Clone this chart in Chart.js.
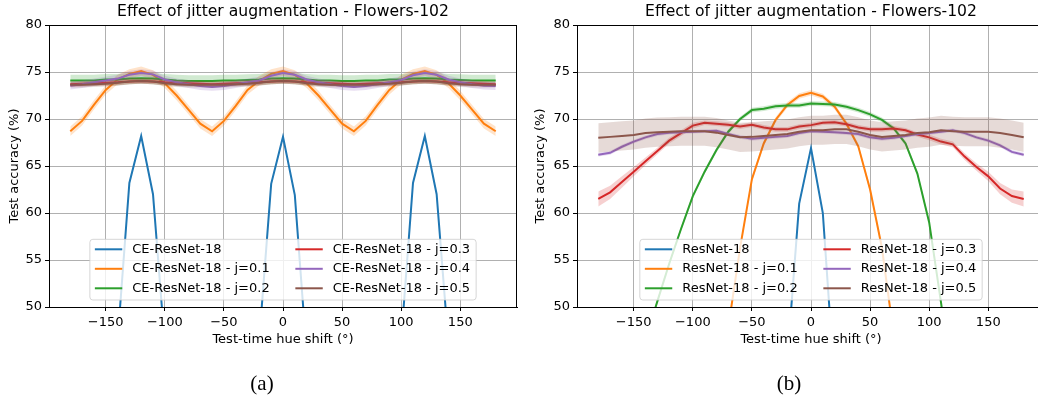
<!DOCTYPE html>
<html><head><meta charset="utf-8">
<script src="https://cdn.jsdelivr.net/npm/chart.js@4.4.1/dist/chart.umd.min.js"></script>
<style>
html,body{margin:0;padding:0;background:#fff;overflow:hidden;width:1038px;height:397px;position:relative}
#wa{position:absolute;left:0;top:0;width:520px;height:397px}
#wb{position:absolute;left:520px;top:0;width:530px;height:397px}
.cap{position:absolute;top:371px;line-height:24px;font-family:'Liberation Serif','Times New Roman',serif;font-size:21px;transform:translateX(-50%);color:#000}
</style></head><body>
<div id="wa"><canvas id="ca" width="520" height="397"></canvas></div>
<div id="wb"><canvas id="cb" width="530" height="397"></canvas></div>
<div class="cap" style="left:262px">(a)</div>
<div class="cap" style="left:789px">(b)</div>
<script>
const hueShifts = [-180,-170,-160,-150,-140,-130,-120,-110,-100,-90,-80,-70,-60,-50,-40,-30,-20,-10,0,10,20,30,40,50,60,70,80,90,100,110,120,130,140,150,160,170,180];

const chartTitle = 'Effect of jitter augmentation - Flowers-102';
const xAxisTitle = 'Test-time hue shift (\u00b0)';
const yAxisTitle = 'Test accuracy (%)';

const leftLabels = ['CE-ResNet-18','CE-ResNet-18 - j=0.1','CE-ResNet-18 - j=0.2','CE-ResNet-18 - j=0.3','CE-ResNet-18 - j=0.4','CE-ResNet-18 - j=0.5'];
const rightLabels = ['ResNet-18','ResNet-18 - j=0.1','ResNet-18 - j=0.2','ResNet-18 - j=0.3','ResNet-18 - j=0.4','ResNet-18 - j=0.5'];

// (a) CE-ResNet-18
const ceBase = [null,null,null,null,46.4,63.2,68.2,62.0,46.0,null,null,null,null,null,null,null,46.7,63.1,68.1,61.9,45.1,null,null,null,null,null,null,null,46.5,63.2,68.2,62.0,46.0,null,null,null,null];
const ceJ01 = [68.7,69.8,71.5,73.1,74.2,74.8,75.1,74.7,73.8,72.5,71.0,69.5,68.7,69.8,71.4,73.1,74.1,74.8,75.1,74.7,73.8,72.5,71.0,69.5,68.7,69.8,71.5,73.1,74.2,74.8,75.1,74.7,73.8,72.5,71.0,69.5,68.7];
const ceJ02 = [74.1,74.1,74.1,74.2,74.2,74.3,74.35,74.3,74.2,74.1,74.05,74.05,74.05,74.1,74.1,74.15,74.2,74.3,74.35,74.3,74.2,74.1,74.1,74.05,74.05,74.1,74.1,74.2,74.2,74.3,74.35,74.3,74.2,74.15,74.1,74.1,74.1];
const ceJ03 = [73.7,73.75,73.8,73.85,73.9,74.0,74.05,74.0,73.9,73.85,73.8,73.75,73.7,73.75,73.8,73.85,73.9,74.0,74.05,74.0,73.9,73.85,73.8,73.75,73.7,73.75,73.8,73.85,73.9,74.0,74.05,74.0,73.9,73.85,73.8,73.75,73.7];
const ceJ04 = [73.55,73.7,73.9,74.1,74.3,74.7,74.9,74.75,74.2,73.9,73.7,73.5,73.4,73.5,73.7,73.9,74.1,74.6,74.9,74.7,74.2,73.9,73.7,73.5,73.4,73.5,73.7,73.9,74.15,74.65,74.9,74.7,74.2,73.9,73.7,73.55,73.5];
const ceJ05 = [73.65,73.65,73.7,73.75,73.85,74.0,74.05,74.0,73.8,73.7,73.65,73.65,73.65,73.65,73.7,73.75,73.85,74.0,74.05,74.0,73.8,73.7,73.65,73.65,73.65,73.65,73.7,73.75,73.85,74.0,74.05,74.0,73.8,73.7,73.65,73.65,73.65];
const ceSpread = [0.2,0.5,0.6,0.3,0.4,0.3];

// (b) ResNet-18
const rnBase = [null,null,null,null,null,null,null,null,null,null,null,null,null,null,null,null,44.5,61.0,66.9,60.0,41.8,null,null,null,null,null,null,null,null,null,null,null,null,null,null,null,null];
const rnJ01 = [null,null,null,null,null,null,null,null,null,null,null,47.8,56.3,63.6,67.4,69.9,71.5,72.45,72.8,72.4,71.3,69.5,67.1,62.5,56.3,47.0,null,null,null,null,null,null,null,null,null,null,null];
const rnJ02 = [null,null,null,null,46.6,50.6,54.6,58.3,61.8,64.4,66.7,68.65,70.0,70.95,71.1,71.35,71.45,71.45,71.65,71.6,71.55,71.3,70.95,70.5,69.9,69.0,67.4,64.2,59.0,50.5,41.0,null,null,null,null,null,null];
const rnJ03 = [61.5,62.2,63.3,64.4,65.5,66.6,67.7,68.5,69.3,69.6,69.5,69.4,69.2,69.4,69.1,68.9,68.9,69.2,69.35,69.6,69.65,69.45,69.1,68.9,68.9,69.0,68.8,68.35,68.05,67.6,67.3,66.0,64.9,63.9,62.6,61.8,61.5];
const rnJ04 = [66.2,66.4,67.05,67.6,68.05,68.4,68.55,68.6,68.65,68.7,68.75,68.4,68.1,67.9,68.0,68.1,68.2,68.5,68.7,68.65,68.6,68.5,68.4,68.05,67.9,68.0,68.2,68.4,68.5,68.65,68.8,68.5,68.05,67.7,67.2,66.5,66.2];
const rnJ05 = [68.0,68.1,68.2,68.3,68.5,68.6,68.65,68.7,68.7,68.7,68.55,68.3,68.05,68.1,68.2,68.3,68.4,68.65,68.8,68.8,68.9,68.9,68.65,68.3,68.1,68.2,68.3,68.5,68.6,68.8,68.7,68.65,68.65,68.65,68.5,68.3,68.05];
const rnJ03Spread = [0.8,0.7,0.6,0.5,0.4,0.35,0.3,0.3,0.3,0.25,0.25,0.25,0.25,0.25,0.25,0.25,0.25,0.25,0.25,0.25,0.25,0.25,0.25,0.25,0.25,0.25,0.25,0.25,0.3,0.3,0.3,0.35,0.4,0.5,0.6,0.7,0.8];
const rnSpread = [0.2,0.3,0.25,rnJ03Spread,0.2,1.55];

const seriesColors = ['#1f77b4','#ff7f0e','#2ca02c','#d62728','#9467bd','#8c564b'];

function rgba(hex, a) {
  const n = parseInt(hex.slice(1), 16);
  return 'rgba(' + ((n >> 16) & 255) + ',' + ((n >> 8) & 255) + ',' + (n & 255) + ',' + a + ')';
}

function buildDatasets(seriesList, spreads, labels) {
  const ds = [];
  seriesList.forEach((vals, k) => {
    const s = spreads[k];
    const sd = i => Array.isArray(s) ? s[i] : s;
    const color = seriesColors[k];
    const up = vals.map((v, i) => ({x: hueShifts[i], y: v == null ? null : v + sd(i)}));
    const lo = vals.map((v, i) => ({x: hueShifts[i], y: v == null ? null : v - sd(i)}));
    const line = vals.map((v, i) => ({x: hueShifts[i], y: v}));
    const lowerIndex = ds.length + 1;
    ds.push({label: labels[k] + ' upper', data: up, borderWidth: 0, borderColor: 'transparent', pointRadius: 0, fill: lowerIndex, backgroundColor: rgba(color, 0.22), order: -2 * k, clip: 0, tension: 0});
    ds.push({label: labels[k] + ' lower', data: lo, borderWidth: 0, borderColor: 'transparent', pointRadius: 0, fill: false, order: -2 * k, clip: 0, tension: 0});
    ds.push({label: labels[k], data: line, borderWidth: 2, borderColor: color, backgroundColor: color, pointRadius: 0, fill: false, order: -2 * k - 1, clip: 0, tension: 0, spanGaps: false});
  });
  return ds;
}

const FONT = 'DejaVu Sans';

const mplPlugin = {
  id: 'mplFrame',
  afterDatasetsDraw(chart) {
    const ctx = chart.ctx;
    const a = chart.chartArea;
    ctx.save();
    ctx.strokeStyle = '#000';
    ctx.lineWidth = 1;
    ctx.beginPath();
    ctx.moveTo(Math.round(a.left), Math.round(a.top) + 0.5);
    ctx.lineTo(Math.round(a.right), Math.round(a.top) + 0.5);
    ctx.moveTo(Math.round(a.right) - 0.5, Math.round(a.top));
    ctx.lineTo(Math.round(a.right) - 0.5, Math.round(a.bottom));
    ctx.stroke();

    const opts = chart.options.plugins.mplFrame;
    const labels = opts.labels;
    ctx.font = '13px "' + FONT + '"';
    const col1 = labels.slice(0, 3), col2 = labels.slice(3);
    const w1 = Math.max(...col1.map(t => ctx.measureText(t).width));
    const w2 = Math.max(...col2.map(t => ctx.measureText(t).width));
    const padL = 5, hl = 27.4, hg = 10, cs = 25.7, padR = 6;
    const W = padL + hl + hg + w1 + cs + hl + hg + w2 + padR;
    const H = 60.7;
    const cx = (a.left + a.right) / 2;
    const bx = cx - W / 2;
    const bottom = a.bottom - 7;
    const by = bottom - H;
    ctx.beginPath();
    if (ctx.roundRect) ctx.roundRect(bx, by, W, H, 3); else ctx.rect(bx, by, W, H);
    ctx.fillStyle = 'rgba(255,255,255,0.8)';
    ctx.fill();
    ctx.strokeStyle = 'rgba(204,204,204,0.8)';
    ctx.lineWidth = 1;
    ctx.stroke();
    ctx.textBaseline = 'middle';
    ctx.textAlign = 'left';
    labels.forEach((t, i) => {
      const col = i < 3 ? 0 : 1;
      const row = i % 3;
      const x0 = bx + padL + (col === 1 ? hl + hg + w1 + cs : 0);
      const y = by + 10 + row * 19.5;
      ctx.strokeStyle = seriesColors[i];
      ctx.lineWidth = 2;
      ctx.beginPath();
      ctx.moveTo(x0, y);
      ctx.lineTo(x0 + hl, y);
      ctx.stroke();
      ctx.fillStyle = '#000';
      ctx.fillText(t, x0 + hl + hg, y);
    });
    ctx.restore();
  }
};

function makeChart(canvasId, seriesList, spreads, labels, yWidth, yTitlePad, padRight) {
  const tickFont = {family: FONT, size: 13};
  return new Chart(document.getElementById(canvasId), {
    type: 'line',
    data: {datasets: buildDatasets(seriesList, spreads, labels)},
    plugins: [mplPlugin],
    options: {
      responsive: false,
      animation: false,
      events: [],
      layout: {padding: {left: 0, right: padRight, top: 0, bottom: 50}},
      scales: {
        x: {
          type: 'linear', min: -198, max: 198,
          ticks: {stepSize: 50, includeBounds: false, font: tickFont, color: '#000', padding: 4, maxRotation: 0,
            callback: v => (v < 0 ? '\u2212' + Math.abs(v) : String(v))},
          grid: {color: '#b0b0b0', lineWidth: 1, tickColor: '#000', tickLength: 4},
          border: {color: '#000', width: 1},
          title: {display: true, text: xAxisTitle, font: tickFont, color: '#000', padding: 0},
          afterFit: s => { s.height = 40; }
        },
        y: {
          min: 50, max: 80,
          ticks: {stepSize: 5, font: tickFont, color: '#000', padding: 3},
          grid: {color: '#b0b0b0', lineWidth: 1, tickColor: '#000', tickLength: 4},
          border: {color: '#000', width: 1},
          title: {display: true, text: yAxisTitle, font: tickFont, color: '#000', padding: {top: yTitlePad, bottom: 0}},
          afterFit: s => { s.width = yWidth; }
        }
      },
      plugins: {
        legend: {display: false},
        tooltip: {enabled: false},
        title: {display: true, text: chartTitle, color: '#000', fullSize: false,
          font: {family: FONT, size: 15.6, weight: 'normal'}, padding: {top: 3, bottom: 3.3}},
        mplFrame: {labels: labels}
      }
    }
  });
}

makeChart('ca', [ceBase, ceJ01, ceJ02, ceJ03, ceJ04, ceJ05], ceSpread, leftLabels, 49, 7.2, 3);
makeChart('cb', [rnBase, rnJ01, rnJ02, rnJ03, rnJ04, rnJ05], rnSpread, rightLabels, 57, 12.7, 5);
</script>
</body></html>
